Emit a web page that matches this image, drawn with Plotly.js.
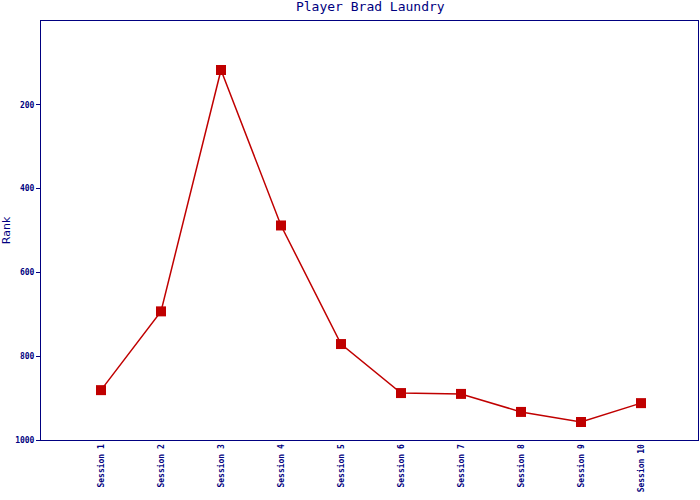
<!DOCTYPE html>
<html><head><meta charset="utf-8">
<script src="https://cdn.plot.ly/plotly-3.0.1.min.js"></script>
<style>html,body{margin:0;padding:0;background:#fff}</style>
</head><body><div id="chart" style="width:700px;height:500px"></div>
<script>
const sessions = ["Session 1","Session 2","Session 3","Session 4","Session 5","Session 6","Session 7","Session 8","Session 9","Session 10"];
const ranks = [881, 693, 117, 488, 771, 888, 890, 933, 957, 912];
const yTicks = [200, 400, 600, 800, 1000];

const navy = "#000080";
const red = "#c00000";
const idx = sessions.map((s, i) => i);

Plotly.newPlot("chart", [{
  x: idx, y: ranks, type: "scatter", mode: "lines+markers",
  line: {color: red, width: 1.5},
  marker: {symbol: "square", size: 10, color: red},
  hoverinfo: "skip"
}], {
  width: 700, height: 500,
  margin: {l: 41, r: 2, t: 21, b: 60},
  paper_bgcolor: "#fff", plot_bgcolor: "#fff",
  showlegend: false,
  title: {text: "Player Brad Laundry", x: 0.529, xanchor: "center", y: 0.997, yanchor: "top",
    font: {family: "DejaVu Sans Mono, monospace", size: 13, color: navy}},
  xaxis: {
    range: [-1, 9.95], tickvals: idx, ticktext: sessions, tickangle: -90,
    showgrid: false, zeroline: false, showline: true, linecolor: navy, linewidth: 1, mirror: true,
    ticks: "", tickfont: {family: "DejaVu Sans Mono, monospace", size: 8, color: navy, weight: "bold"}
  },
  yaxis: {
    range: [1000, 0], tickvals: yTicks, ticktext: yTicks.map(String),
    showgrid: false, zeroline: false, showline: true, linecolor: navy, linewidth: 1, mirror: true,
    ticks: "outside", ticklen: 4, tickcolor: navy,
    tickfont: {family: "DejaVu Sans Mono, monospace", size: 8, color: navy, weight: "bold"},
    title: {text: "Rank", standoff: 4, font: {family: "DejaVu Sans, sans-serif", size: 11, color: navy}}
  }
}, {displayModeBar: false, staticPlot: true});
</script></body></html>
